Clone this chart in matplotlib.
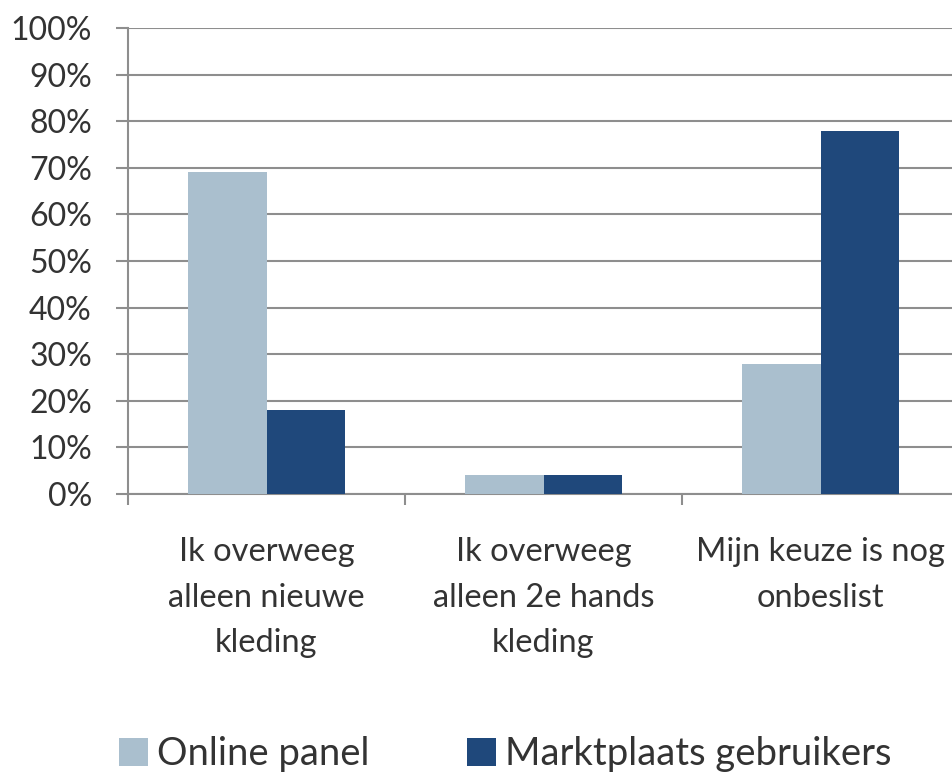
import matplotlib.pyplot as plt
import numpy as np

plt.rcParams["font.family"] = ["Lato", "DejaVu Sans"]

# Data
categories = [
    "Ik overweeg\nalleen nieuwe\nkleding",
    "Ik overweeg\nalleen 2e hands\nkleding",
    "Mijn keuze is nog\nonbeslist",
]
series_names = ["Online panel", "Marktplaats gebruikers"]
online_panel = [69, 4, 28]
marktplaats = [18, 4, 78]
colors = ["#aabfce", "#1f487b"]
grid_color = "#8e8e8e"
text_color = "#333333"

fig = plt.figure(figsize=(9.52, 7.72), dpi=100)
# axes runs a bit past the right edge, as in the original
ax = fig.add_axes([128 / 952, 278 / 772, 831 / 952, 466 / 772])

x = np.arange(len(categories))
width = 0.284
for i, (vals, name) in enumerate(zip([online_panel, marktplaats], series_names)):
    ax.bar(x + (i - 0.5) * width, vals, width, color=colors[i], label=name,
           zorder=3, edgecolor="none")

ax.set_ylim(0, 100)
ax.set_xlim(-0.5, 2.5)
ax.set_yticks(np.arange(0, 101, 10))
ax.set_yticklabels([f"{v}%" for v in range(0, 101, 10)])
ax.yaxis.grid(True, color=grid_color, linewidth=1.5, zorder=0)

# category boundaries as major ticks, labels on minor ticks
ax.set_xticks([-0.5, 0.5, 1.5, 2.5])
ax.set_xticklabels([])
ax.set_xticks(x, minor=True)
ax.set_xticklabels(categories, minor=True, linespacing=1.65)
ax.tick_params(axis="x", which="minor", length=0, pad=31,
               labelsize=23.5, labelcolor=text_color)
ax.tick_params(axis="x", which="major", length=8, width=1.5, color=grid_color)
ax.tick_params(axis="y", length=9, width=1.5, color=grid_color, pad=17,
               labelsize=23, labelcolor=text_color)

for s in ["top", "right"]:
    ax.spines[s].set_visible(False)
for s in ["left", "bottom"]:
    ax.spines[s].set_color(grid_color)
    ax.spines[s].set_linewidth(1.5)

fig.legend(loc="lower center", bbox_to_anchor=(0.531, -0.045), ncol=2,
           frameon=False, fontsize=27.5, handlelength=0.75, handleheight=0.75,
           handletextpad=0.25, columnspacing=2.55, labelcolor=text_color)

fig.savefig("out.png", dpi=100)
